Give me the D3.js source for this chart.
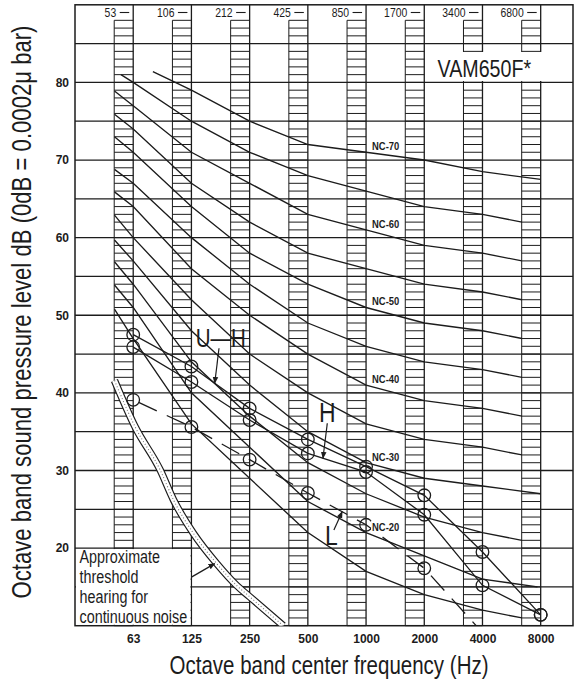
<!DOCTYPE html>
<html>
<head>
<meta charset="utf-8">
<script src="https://cdn.jsdelivr.net/npm/d3@7"></script>
<style>
  html, body { margin: 0; padding: 0; background: #fff; }
  svg { display: block; }
  text { font-family: "Liberation Sans", Arial, sans-serif; }
  .bold { font-weight: bold; }
</style>
</head>
<body>
<svg id="chart" width="577" height="683"></svg>
<script>
// ---- data -------------------------------------------------------------
const bandLabels = ["63", "125", "250", "500", "1000", "2000", "4000", "8000"];
const edgeLabels = ["53", "106", "212", "425", "850", "1700", "3400", "6800"];
const dbTicks = [20, 30, 40, 50, 60, 70, 80];

// NC curve levels (dB) at the eight octave bands
const nc15 = [47, 36, 29, 22, 17, 14, 12, 11];
const nc20 = [51, 40, 33, 26, 22, 19, 16, 15];
const nc25 = [54, 44, 37, 31, 27, 24, 22, 21];
const nc30 = [57, 48, 41, 35, 31, 29, 28, 27];
const nc35 = [60, 52, 45, 40, 36, 34, 33, 32];
const nc40 = [64, 56, 50, 45, 41, 39, 38, 37];
const nc45 = [67, 60, 54, 49, 46, 44, 43, 42];
const nc50 = [71, 64, 58, 54, 51, 49, 48, 47];
const nc55 = [74, 67, 62, 58, 56, 54, 53, 52];
const nc60 = [77, 71, 67, 63, 61, 59, 58, 57];
const nc65 = [80, 75, 71, 68, 66, 64, 63, 62];
const nc70 = [83, 79, 75, 72, 71, 70, 68.5, 67.5];
const ncNames = ["NC-15", "NC-20", "NC-25", "NC-30", "NC-35", "NC-40", "NC-45", "NC-50", "NC-55", "NC-60", "NC-65", "NC-70"];
const ncLabelled = ["NC-20", "NC-30", "NC-40", "NC-50", "NC-60", "NC-70"];
// where each curve begins (Hz, dB) and the frequency at which it stops
const ncEntryHz = [50, 50, 50, 50, 50, 50, 50, 50, 50, 50, 54, 79];
const ncEntryDb = [50.8, 53.9, 56.9, 59.7, 62.9, 65.9, 68.8, 73.0, 75.9, 78.9, 81.0, 81.4];
const ncExitHz = [6400, 7700, 6400, 8000, 6400, 6400, 6400, 6400, 6400, 6400, 6400, 8000];

// measured unit spectra (dB)
const seriesUH = [47.5, 43.4, 38.0, 34.0, 30.5, 26.8, 19.5, 11.4];
const seriesH  = [45.9, 41.4, 36.5, 32.2, 29.8, 24.3, 15.2, 11.4];
const seriesL  = [39.1, 35.6, 31.4, 27.1, 23.0, 17.4, 9.1];

// approximate threshold of hearing
const thresholdHz = [50, 64, 86, 101, 128, 169, 214, 251, 373];
const thresholdDb = [41.6, 35.6, 30.1, 26.2, 21.9, 18.0, 15.2, 13.7, 10.0];

// ---- layout -----------------------------------------------------------
const svg = d3.select("#chart");
const plot = { l: 75, r: 573, t: 4.8, b: 625.7 };
const x = d3.scaleLinear().domain([-1, 7.555]).range([plot.l, plot.r]);   // octave index, 0 = 63 Hz
const y = d3.scaleLinear().domain([10, 90]).range([plot.b, plot.t]);
const octave = hz => Math.log2(hz / 62.5);
const ink = "#1c1c1c";
const colW = 19;
const squeeze = 0.82;   // condensed lettering

// condensed text helper
function ntext(parent, tx, ty, size, str, anchor, extra) {
  return parent.append("text")
    .attr("transform", `translate(${tx},${ty})${extra || ""} scale(${squeeze},1)`)
    .attr("font-size", size).attr("text-anchor", anchor || "start")
    .attr("fill", ink).text(str);
}

svg.append("rect").attr("width", 577).attr("height", 683).attr("fill", "#fff");

const defs = svg.append("defs");
defs.append("clipPath").attr("id", "plotClip")
  .append("rect").attr("x", plot.l).attr("y", plot.t)
  .attr("width", plot.r - plot.l).attr("height", plot.b - plot.t);
defs.append("marker").attr("id", "arrow").attr("viewBox", "0 0 10 10")
  .attr("refX", 9).attr("refY", 5).attr("markerWidth", 7).attr("markerHeight", 7)
  .attr("markerUnits", "userSpaceOnUse").attr("orient", "auto")
  .append("path").attr("d", "M0,1 L10,5 L0,9 Z").attr("fill", ink);

// horizontal grid every 5 dB
svg.append("g").attr("stroke", ink).attr("stroke-width", 1.3)
  .selectAll("line").data(d3.range(15, 90, 5)).join("line")
  .attr("x1", plot.l).attr("x2", plot.r)
  .attr("y1", d => y(d)).attr("y2", d => y(d));

// band lines
svg.append("g").attr("stroke", ink).attr("stroke-width", 1.3)
  .selectAll("line").data(d3.range(bandLabels.length)).join("line")
  .attr("x1", d => x(d)).attr("x2", d => x(d))
  .attr("y1", plot.t).attr("y2", plot.b);

// hatched columns to the left of each band line, one rung per dB
const hatch = svg.append("g").attr("stroke", ink).attr("stroke-width", 1);
bandLabels.forEach((_, i) => {
  const xr = x(i), xl = xr - colW;
  hatch.append("line").attr("x1", xl).attr("x2", xl).attr("y1", y(88)).attr("y2", plot.b);
  hatch.append("g").selectAll("line").data(d3.range(10, 89)).join("line")
    .attr("x1", xl).attr("x2", xr).attr("y1", d => y(d)).attr("y2", d => y(d));
});

// band-edge labels along the top
const edges = svg.append("g");
edgeLabels.forEach((t, i) => {
  ntext(edges, x(i) - 17, 16.7, 12.7, t, "end");
  edges.append("line").attr("x1", x(i) - 13.5).attr("x2", x(i) - 4)
    .attr("y1", 12.5).attr("y2", 12.5).attr("stroke", ink).attr("stroke-width", 1.1);
});

// model name
svg.append("rect").attr("x", 434).attr("y", 52).attr("width", 132).attr("height", 29).attr("fill", "#fff");
ntext(svg, 437.5, 76.5, 24, "VAM650F*");

// frame
svg.append("rect").attr("x", plot.l).attr("y", plot.t)
  .attr("width", plot.r - plot.l).attr("height", plot.b - plot.t)
  .attr("fill", "none").attr("stroke", ink).attr("stroke-width", 1.5);

// threshold note box (bounded by the 20 dB line and the 125 Hz line)
svg.append("rect").attr("x", plot.l + 1).attr("y", y(20) + 1)
  .attr("width", x(1) - plot.l - 2).attr("height", plot.b - y(20) - 2).attr("fill", "#fff");
["Approximate", "threshold", "hearing for", "continuous noise"].forEach((t, k) => {
  ntext(svg, 79.5, 562.5 + k * 20, 17.5, t);
});

// ---- curves -----------------------------------------------------------
const layer = svg.append("g").attr("clip-path", "url(#plotClip)");
const line = d3.line().x(d => x(d[0])).y(d => y(d[1]));

const ncAll = [nc15, nc20, nc25, nc30, nc35, nc40, nc45, nc50, nc55, nc60, nc65, nc70];
const ncCurves = ncAll.map((levels, k) => {
  const p0 = octave(ncEntryHz[k]);
  const pts = [[p0, ncEntryDb[k]]];
  levels.forEach((v, i) => { if (i > p0 && i < 7) pts.push([i, v]); });
  pts.push([Math.min(octave(ncExitHz[k]), 7), levels[7]]);
  return { name: ncNames[k], levels, pts };
});

layer.append("g").attr("fill", "none").attr("stroke", ink).attr("stroke-width", 1.35)
  .selectAll("path").data(ncCurves).join("path").attr("d", d => line(d.pts));

// NC labels just right of the 1000 Hz line
const ncLab = svg.append("g");
const ncBg = ncLab.append("g");
ncCurves.filter(c => ncLabelled.includes(c.name)).forEach(c => {
  const t = ntext(ncLab, x(4) + 6, y(c.levels[4]) - 2, 11.5, c.name).attr("class", "bold");
  const bb = t.node().getBBox();
  ncBg.append("rect").attr("x", x(4) + 5).attr("y", y(c.levels[4]) - 2 + bb.y + 1)
    .attr("width", bb.width * squeeze + 2).attr("height", bb.height - 2).attr("fill", "#fff");
});

// threshold of hearing band
const thr = thresholdHz.map((h, i) => [octave(h), thresholdDb[i]]);
const thrLine = d3.line().x(d => x(d[0])).y(d => y(d[1])).curve(d3.curveMonotoneX);
layer.append("path").attr("d", thrLine(thr)).attr("fill", "none").attr("stroke", ink).attr("stroke-width", 7.5);
layer.append("path").attr("d", thrLine(thr)).attr("fill", "none").attr("stroke", "#fff").attr("stroke-width", 5.2);
layer.append("path").attr("d", thrLine(thr)).attr("fill", "none").attr("stroke", "#777")
  .attr("stroke-width", 1.1).attr("stroke-dasharray", "1 2.2");

// measured spectra
const seriesList = [
  { name: "U-H", values: seriesUH, dash: null },
  { name: "H", values: seriesH, dash: null },
  { name: "L", values: seriesL, dash: "20 11" }
];
seriesList.forEach(s => {
  const pts = s.values.map((v, i) => [i, v]);
  const p = layer.append("path").attr("d", line(pts)).attr("fill", "none")
    .attr("stroke", ink).attr("stroke-width", 1.3);
  if (s.dash) p.attr("stroke-dasharray", s.dash).attr("stroke-dashoffset", 25);
  layer.append("g").selectAll("circle").data(pts.filter(d => d[1] >= 10)).join("circle")
    .attr("cx", d => x(d[0])).attr("cy", d => y(d[1])).attr("r", 6.3)
    .attr("fill", "none").attr("stroke", ink).attr("stroke-width", 1.3);
});

// series labels with pointers
const pointAlong = (vals, i, t) => {
  const a = [x(i), y(vals[i])], b = [x(i + 1), y(vals[i + 1])];
  return [a[0] + (b[0] - a[0]) * t, a[1] + (b[1] - a[1]) * t];
};
const callouts = [
  { text: "U\u2014H", vals: seriesUH, seg: 1, t: 0.4, tail: [4.3, -35], lab: [-19, -36.6], size: 25 },
  { text: "H", vals: seriesH, seg: 3, t: 0.26, tail: [4.3, -35], lab: [-4, -36.7], size: 28 },
  { text: "L", vals: seriesL, seg: 3, t: 0.59, tail: [-8.3, 18.3], lab: [-17.3, 33.3], size: 28 }
];
const ann = svg.append("g");
callouts.forEach(c => {
  const tip = pointAlong(c.vals, c.seg, c.t);
  ann.append("line").attr("x1", tip[0] + c.tail[0]).attr("y1", tip[1] + c.tail[1])
    .attr("x2", tip[0]).attr("y2", tip[1]).attr("stroke", ink).attr("stroke-width", 1.2)
    .attr("marker-end", "url(#arrow)");
  ntext(ann, tip[0] + c.lab[0], tip[1] + c.lab[1], c.size, c.text);
});

// pointer from the note box to the threshold band
{
  const target = thr[5];
  ann.append("line").attr("x1", x(1)).attr("y1", y(target[1]) + 13.5)
    .attr("x2", x(target[0]) - 2).attr("y2", y(target[1])).attr("stroke", ink).attr("stroke-width", 1.2)
    .attr("marker-end", "url(#arrow)");
}

// ---- axes -------------------------------------------------------------
const yAxis = svg.append("g").attr("transform", `translate(${plot.l},0)`)
  .call(d3.axisLeft(y).tickValues(dbTicks).tickSize(0).tickPadding(6));
yAxis.select(".domain").remove();
yAxis.selectAll("text").attr("class", "bold").attr("font-size", 12).attr("fill", ink)
  .attr("font-family", "Liberation Sans, Arial, sans-serif");

const xAxis = svg.append("g").attr("transform", `translate(0,${plot.b})`)
  .call(d3.axisBottom(x).tickValues(d3.range(bandLabels.length)).tickFormat(i => bandLabels[i])
    .tickSize(0).tickPadding(9));
xAxis.select(".domain").remove();
xAxis.selectAll("text").attr("class", "bold").attr("font-size", 12).attr("fill", ink)
  .attr("font-family", "Liberation Sans, Arial, sans-serif");

ntext(svg, 329, 673.5, 25, "Octave band center frequency (Hz)", "middle");
ntext(svg, 31, 312, 27, "Octave band sound pressure level dB (0dB = 0.0002\u03bc bar)", "middle", " rotate(-90)");
</script>
</body>
</html>
